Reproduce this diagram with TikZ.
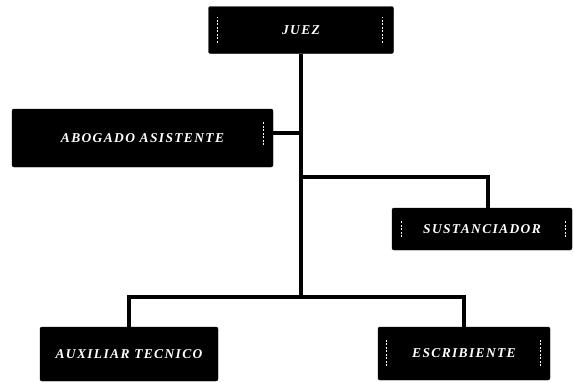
\documentclass[tikz,border=0pt]{standalone}
\usepackage{fontspec}
\setmainfont{Liberation Serif}
\newfontfamily\labfont[LetterSpace=10]{Liberation Serif}
\begin{document}
\begin{tikzpicture}[x=1pt,y=-1pt,
  orgbox/.style={fill=black, draw=black, rounded corners=2pt, text=white, inner sep=0pt,
    font=\labfont\bfseries\itshape\fontsize{13.5}{15}\selectfont},
  conn/.style={line width=3.4pt, black},
  tick/.style={white, line width=0.9pt, dash pattern=on 2pt off 1.5pt}]
\useasboundingbox (0,0) rectangle (574,381);
\node[orgbox, minimum width=185pt, minimum height=47pt] (juez) at (301,30) {JUEZ};
\node[orgbox, minimum width=261pt, minimum height=58pt] (abog) at (142.5,138) {ABOGADO ASISTENTE};
\node[orgbox, minimum width=180pt, minimum height=42pt] (sust) at (482,229) {SUSTANCIADOR};
\node[orgbox, minimum width=178pt, minimum height=54pt] (aux) at (129,354) {AUXILIAR TECNICO};
\node[orgbox, minimum width=172pt, minimum height=53pt] (esc) at (464,353.5) {ESCRIBIENTE};
\coordinate (hb) at (300,297);
\coordinate (hs) at (300,177);
\draw[conn] (juez.south) -- (juez.south |- hb);
\draw[conn] ([yshift=5pt]abog.east) -- ([yshift=5pt]abog.east -| juez.south);
\draw[conn] (juez.south |- hs) -| ([xshift=6pt]sust.north);
\draw[conn] (aux.north) |- (hb) -| (esc.north);
% small dashed marks inside boxes
\draw[tick] ([xshift=9pt,yshift=11pt]juez.south west) -- ([xshift=9pt,yshift=-11pt]juez.north west);
\draw[tick] ([xshift=-11pt,yshift=11pt]juez.south east) -- ([xshift=-11pt,yshift=-11pt]juez.north east);
\draw[tick] ([xshift=-10pt,yshift=22pt]abog.south east) -- ([xshift=-10pt,yshift=-13pt]abog.north east);
\draw[tick] ([xshift=10pt,yshift=13pt]sust.south west) -- ([xshift=10pt,yshift=-13pt]sust.north west);
\draw[tick] ([xshift=-7pt,yshift=13pt]sust.south east) -- ([xshift=-7pt,yshift=-13pt]sust.north east);
\draw[tick] ([xshift=9pt,yshift=14pt]esc.south west) -- ([xshift=9pt,yshift=-13pt]esc.north west);
\draw[tick] ([xshift=-10pt,yshift=14pt]esc.south east) -- ([xshift=-10pt,yshift=-13pt]esc.north east);
\end{tikzpicture}
\end{document}
